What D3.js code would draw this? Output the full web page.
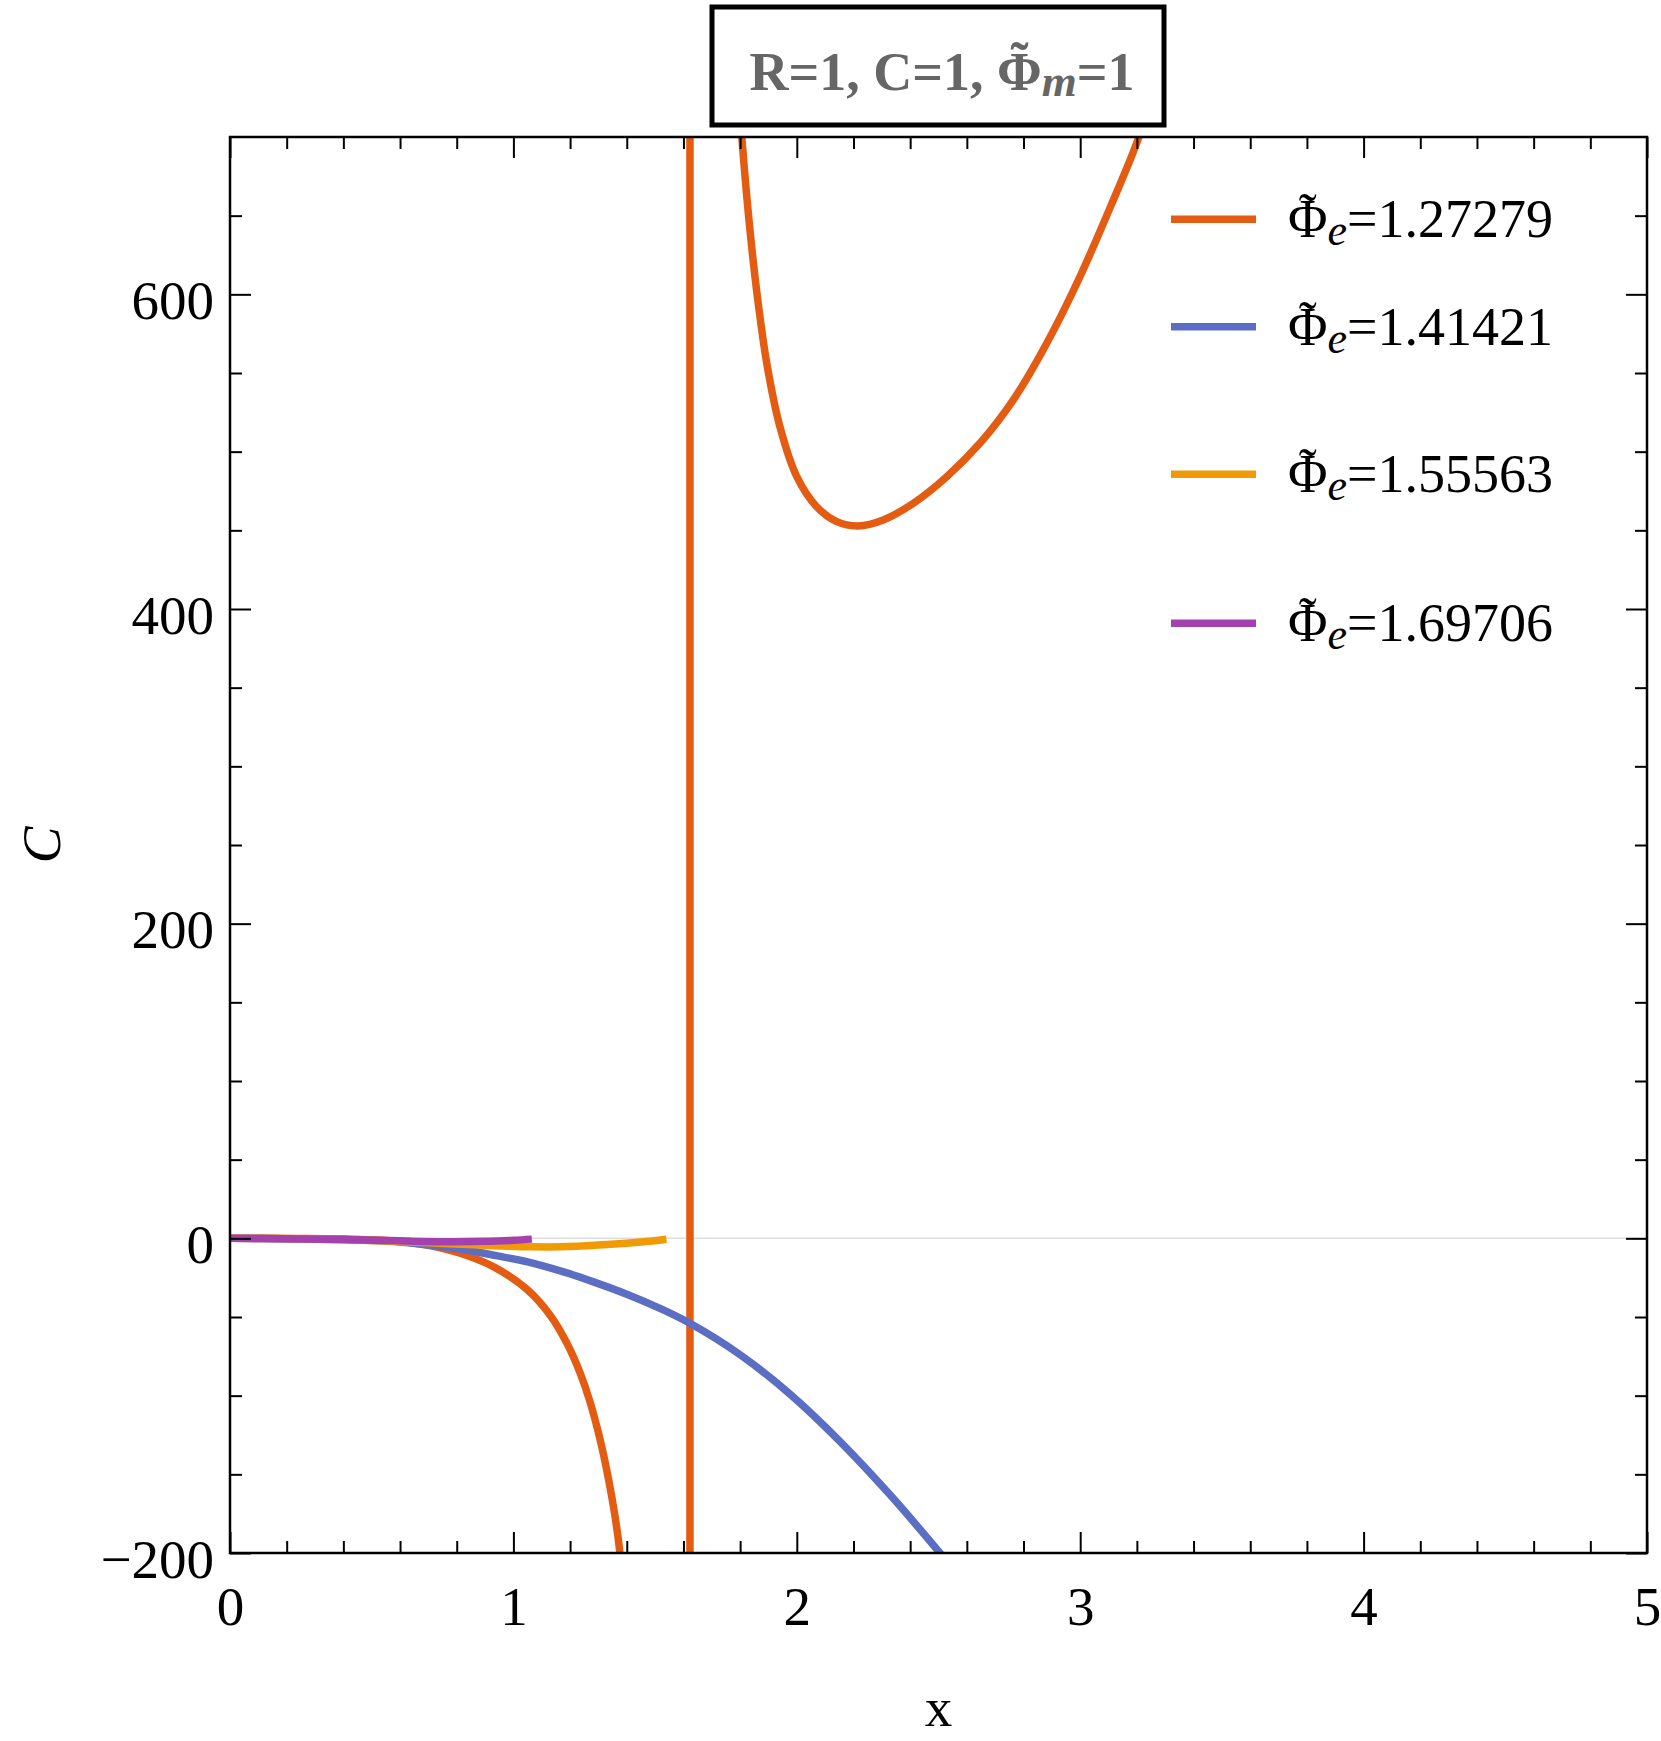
<!DOCTYPE html>
<html lang="en">
<head>
<meta charset="UTF-8">
<title>C vs x</title>
<script src="https://d3js.org/d3.v7.min.js"></script>
<style>
    body { margin: 0; background: #fff; }
    svg text { font-family: 'Liberation Serif', 'Times New Roman', serif; }
    .axis path { display: none; }
    .axis line { stroke: #000; stroke-width: 2; }
</style>
</head>
<body>
<div id="chart"></div>
<script>
    // series (x, C)
    const phiLabels = ["1.27279", "1.41421", "1.55563", "1.69706"];
    const seriesColors = ["#e35c12", "#5b6ec4", "#f09b06", "#a541ae"];

    const orangeLeft = [[0, 0], [0.2, -0.05], [0.4, -0.5], [0.5, -1], [0.6, -2], [0.7, -4.5], [0.812, -9.5],
        [0.929, -18], [1.047, -32.3], [1.129, -48.7], [1.188, -66.4], [1.235, -85.4], [1.27, -103.7],
        [1.306, -128], [1.335, -152.5], [1.358, -176], [1.374, -197], [1.42, -280], [1.48, -460],
        [1.54, -900], [1.58, -1800]];
    const orangePole = [[1.623, -6000], [1.623, 6000]];
    const orangeRight = [[1.7, 1400], [1.78, 765], [1.806, 700], [1.829, 651.5], [1.858, 602.8],
        [1.894, 556.2], [1.941, 515.5], [2.0, 484.1], [2.07, 465], [2.141, 455.5], [2.217, 452.8],
        [2.305, 456.6], [2.411, 467.2], [2.529, 484.1], [2.646, 505.3], [2.764, 532.9], [2.882, 568.9],
        [2.999, 611.2], [3.117, 660], [3.199, 696], [3.25, 725]];
    const blueCurve = [[0, 0], [0.4, -0.8], [0.6, -2.3], [0.8, -6.5], [0.94, -11], [1.05, -15], [1.18, -21.5],
        [1.28, -27.5], [1.4, -35.5], [1.517, -44.5], [1.623, -54], [1.8, -74], [1.976, -99], [2.152, -129],
        [2.329, -163], [2.505, -200], [2.55, -210]];
    const yellowCurve = [[0, 0], [0.3, -0.4], [0.5, -1.4], [0.7, -2.8], [0.82, -3.8], [0.95, -4.8],
        [1.06, -5.4], [1.17, -5.4], [1.3, -4.3], [1.45, -2.4], [1.54, -0.6]];
    const purpleCurve = [[0, 0], [0.2, -0.2], [0.4, -0.8], [0.6, -1.6], [0.75, -2.1], [0.9, -1.9],
        [1.0, -1.2], [1.065, -0.5]];

    const xMajor = [0, 1, 2, 3, 4, 5];
    const yMajor = [-200, 0, 200, 400, 600];
    const xMinor = d3.range(0, 5.001, 0.2).filter(v => Math.abs(v - Math.round(v)) > 1e-6);
    const yMinor = d3.range(-150, 700, 50).filter(v => v % 200 !== 0);

    const width = 1661, height = 1741;
    const plotLeft = 230, plotRight = 1647, plotTop = 137, plotBottom = 1553;

    let svg = d3.select("#chart").append("svg")
        .attr("width", width)
        .attr("height", height);

    let x = d3.scaleLinear().domain([0, 5]).range([plotLeft, plotRight]);
    let y = d3.scaleLinear().domain([-200, 700]).range([plotBottom, plotTop]);

    svg.append("defs").append("clipPath").attr("id", "plotclip")
        .append("rect")
        .attr("x", plotLeft).attr("y", plotTop)
        .attr("width", plotRight - plotLeft).attr("height", plotBottom - plotTop);

    // zero line
    svg.append("line")
        .attr("x1", plotLeft).attr("x2", plotRight)
        .attr("y1", y(0)).attr("y2", y(0))
        .attr("stroke", "#dedede")
        .attr("stroke-width", 1.5);

    // curves
    let line = d3.line()
        .x(d => x(d[0]))
        .y(d => y(d[1]))
        .curve(d3.curveCatmullRom.alpha(0.5));

    let plot = svg.append("g").attr("clip-path", "url(#plotclip)");
    const curves = [
        { data: orangeLeft, color: seriesColors[0] },
        { data: orangePole, color: seriesColors[0] },
        { data: orangeRight, color: seriesColors[0] },
        { data: blueCurve, color: seriesColors[1] },
        { data: yellowCurve, color: seriesColors[2] },
        { data: purpleCurve, color: seriesColors[3] }
    ];
    plot.selectAll("path.curve")
        .data(curves)
        .enter()
        .append("path")
        .attr("class", "curve")
        .attr("d", d => line(d.data))
        .attr("fill", "none")
        .attr("stroke", d => d.color)
        .attr("stroke-width", 7.5);

    // ticks, all pointing inward, mirrored on top and right
    function addTicks(axisFn, scale, values, size, transform, labels) {
        let g = svg.append("g")
            .attr("class", "axis")
            .attr("transform", transform)
            .call(axisFn(scale).tickValues(values).tickSizeInner(-size).tickSizeOuter(0)
                .tickFormat(labels ? (d => d < 0 ? "\u2212" + Math.abs(d) : d) : ""));
        return g;
    }

    let xb = addTicks(d3.axisBottom, x, xMajor, 21, `translate(0,${plotBottom})`, true);
    xb.selectAll("text")
        .attr("y", 0).attr("dy", null)
        .attr("transform", "translate(0,72)")
        .style("font-size", "55px")
        .attr("fill", "#000");
    addTicks(d3.axisBottom, x, xMinor, 12, `translate(0,${plotBottom})`, false);
    addTicks(d3.axisTop, x, xMajor, 21, `translate(0,${plotTop})`, false);
    addTicks(d3.axisTop, x, xMinor, 12, `translate(0,${plotTop})`, false);

    let yl = addTicks(d3.axisLeft, y, yMajor, 21, `translate(${plotLeft},0)`, true);
    yl.selectAll("text")
        .attr("x", -16).attr("dy", "24px")
        .style("font-size", "55px")
        .attr("fill", "#000");
    addTicks(d3.axisLeft, y, yMinor, 12, `translate(${plotLeft},0)`, false);
    addTicks(d3.axisRight, y, yMajor, 21, `translate(${plotRight},0)`, false);
    addTicks(d3.axisRight, y, yMinor, 12, `translate(${plotRight},0)`, false);

    // frame
    svg.append("rect")
        .attr("x", plotLeft).attr("y", plotTop)
        .attr("width", plotRight - plotLeft).attr("height", plotBottom - plotTop)
        .attr("fill", "none")
        .attr("stroke", "#000")
        .attr("stroke-width", 2.5);

    // axis labels
    svg.append("text")
        .attr("x", (plotLeft + plotRight) / 2)
        .attr("y", 1726)
        .attr("text-anchor", "middle")
        .style("font-size", "55px")
        .text("x");

    svg.append("text")
        .attr("transform", `translate(60,${(plotTop + plotBottom) / 2}) rotate(-90)`)
        .attr("text-anchor", "middle")
        .style("font-size", "55px")
        .style("font-style", "italic")
        .text("C");

    // Phi with a tilde on top and an italic subscript, all inside one text element
    function phiTilde(text, sub, subSize, subDrop, lift, rest) {
        let phi = text.append("tspan").text("\u03A6");
        let tilde = text.append("tspan").text("\u02DC");
        let s = text.append("tspan")
            .style("font-size", subSize + "px")
            .style("font-style", "italic")
            .text(sub);
        let r = text.append("tspan").attr("dy", -subDrop).text(rest);
        let w = phi.node().getComputedTextLength();
        let tw = tilde.node().getComputedTextLength();
        tilde.attr("dx", -(w + tw) / 2).attr("dy", -lift);
        s.attr("dx", (w - tw) / 2).attr("dy", lift + subDrop);
        return r;
    }

    // legend
    const legendRows = [219.3, 326.7, 474.3, 623.3];
    let legend = svg.append("g").attr("class", "legend");
    phiLabels.forEach((lab, i) => {
        let cy = legendRows[i];
        legend.append("line")
            .attr("x1", 1171).attr("x2", 1256)
            .attr("y1", cy).attr("y2", cy)
            .attr("stroke", seriesColors[i])
            .attr("stroke-width", 7.5);
        let t = legend.append("text")
            .attr("x", 1288)
            .attr("y", cy + 18)
            .style("font-size", "54px");
        phiTilde(t, "e", 44, 8, 6, "=" + lab);
    });

    // title box
    svg.append("rect")
        .attr("x", 712).attr("y", 7)
        .attr("width", 452).attr("height", 118)
        .attr("fill", "#fff")
        .attr("stroke", "#000")
        .attr("stroke-width", 5);

    let title = svg.append("text")
        .attr("x", 942)
        .attr("y", 90)
        .attr("text-anchor", "middle")
        .style("font-size", "54px")
        .style("font-weight", "bold")
        .attr("fill", "#666");
    title.append("tspan").text("R=1, C=1, ");
    phiTilde(title, "m", 45, 6, 10, "=1");
</script>
</body>
</html>
